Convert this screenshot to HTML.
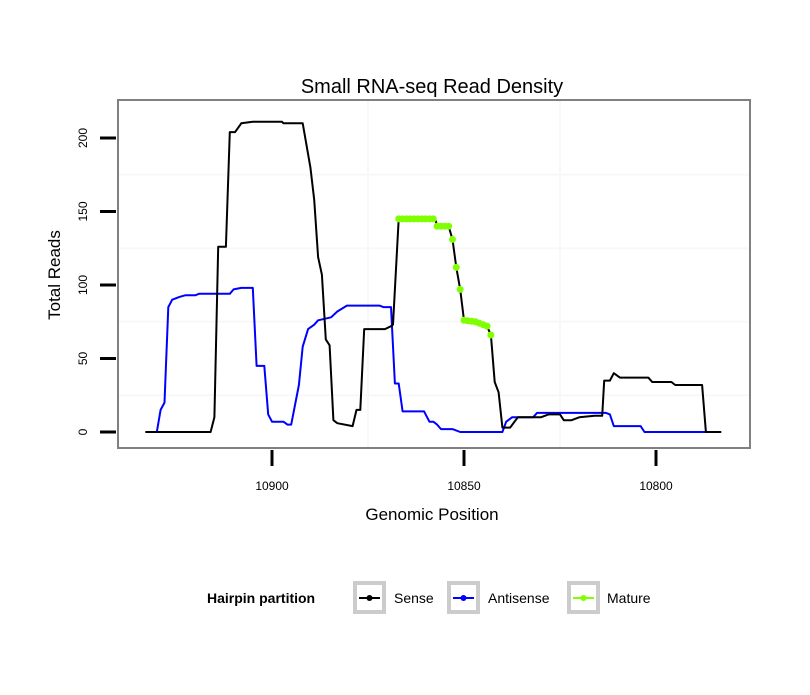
<!DOCTYPE html>
<html><head><meta charset="utf-8"><style>
body{margin:0;background:#fff;font-family:"Liberation Sans",sans-serif}
svg text{font-family:"Liberation Sans",sans-serif}
</style></head><body>
<svg id="chart" width="810" height="690" xmlns="http://www.w3.org/2000/svg">
<rect width="810" height="690" fill="#fff"/>
<text x="432" y="93" font-size="20" text-anchor="middle">Small RNA-seq Read Density</text>
<g id="grid"></g>
<g id="series"></g>
<rect x="118" y="100" width="632" height="348" fill="none" stroke="#808080" stroke-width="2"/>
<g id="axes"></g>
<text x="432" y="520" font-size="17" text-anchor="middle">Genomic Position</text>
<text transform="translate(60,275) rotate(-90)" font-size="17" text-anchor="middle">Total Reads</text>
<g>
<text x="207" y="603" font-size="14" font-weight="bold">Hairpin partition</text>
<g>
<rect x="355" y="583" width="29" height="29" fill="#fff" stroke="#ccc" stroke-width="4"/>
<line x1="359" y1="598" x2="380" y2="598" stroke="#000" stroke-width="2"/><circle cx="369.5" cy="598" r="3" fill="#000"/>
<text x="394" y="603" font-size="14">Sense</text></g>
<g>
<rect x="449" y="583" width="29" height="29" fill="#fff" stroke="#ccc" stroke-width="4"/>
<line x1="453" y1="598" x2="474" y2="598" stroke="#0000ff" stroke-width="2"/><circle cx="463.5" cy="598" r="3" fill="#0000ff"/>
<text x="488" y="603" font-size="14">Antisense</text></g>
<g>
<rect x="569" y="583" width="29" height="29" fill="#fff" stroke="#ccc" stroke-width="4"/>
<line x1="573" y1="598" x2="594" y2="598" stroke="#7fff00" stroke-width="2"/><circle cx="583.5" cy="598" r="3" fill="#7fff00"/>
<text x="607" y="603" font-size="14">Mature</text></g>
</g>
</svg>
<script>
const xTicks = [10900, 10850, 10800];
const yTicks = [0, 50, 100, 150, 200];
const sensePos = [10933,10916,10915,10914,10912,10911,10909.6,10908,10905,10897.4,10897,10892,10890,10889,10888,10887,10886,10885,10884,10883,10879,10878,10877,10876,10870.6,10869,10868.5,10867,10857.5,10857,10854,10853,10852,10851,10850,10847,10844,10843,10842,10841,10840,10838,10836,10830,10828,10825,10824,10822,10820,10816,10814,10813.5,10812,10811,10809.4,10802,10801,10796,10795,10788,10787,10783];
const senseVal = [0,0,10,126,126,204,204,210,211,211,210,210,180,158,119,107,63,59,8,6,4,15,15,70,70,72,73,145,145,140,140,131,112,97,76,75,72,66,34,27,3,3,10,10,12,12,8,8,10,11,11,35,35,40,37,37,34,34,32,32,0,0];
const antiPos = [10930,10929,10928,10927,10926,10924,10922.6,10920,10919,10911,10910,10908,10905,10904,10902,10901,10900,10897,10896,10895,10893,10892,10890.6,10889,10888,10884.6,10883,10880.5,10872,10871,10869,10868,10867,10866,10860.4,10859,10858,10857,10856,10853,10851,10840,10839,10837.5,10832,10831,10813,10812,10811,10804,10803,10787];
const antiVal = [0,15,20,85,90,92,93,93,94,94,97,98,98,45,45,12,7,7,5,5,32,58,70,73,76,78,82,86,86,85,85,33,33,14,14,7,7,5,2,2,0,0,7,10,10,13,13,12,4,4,0,0];
const matureStart = 10867, matureEnd = 10843;

const L=118,R=750,T=100,B=448;
const xs = p => 272 + (10900 - p) * 3.84;
const ys = v => 432 - v * 1.47;
const NS="http://www.w3.org/2000/svg";
function mk(tag, attrs, parent){const e=document.createElementNS(NS,tag);for(const k in attrs)e.setAttribute(k,attrs[k]);parent.appendChild(e);return e;}
const grid=document.getElementById('grid'), series=document.getElementById('series'), axes=document.getElementById('axes');
mk('rect',{x:L,y:T,width:R-L,height:B-T,fill:'#fff'},grid);
for(let i=0;i<yTicks.length-1;i++){const v=(yTicks[i]+yTicks[i+1])/2;
 const g=mk('line',{x1:L,x2:R,y1:ys(v),y2:ys(v),stroke:'#f8f8f8','stroke-width':2},grid);
 
 }
for(let i=0;i<xTicks.length-1;i++){const p=(xTicks[i]+xTicks[i+1])/2;
 const g=mk('line',{y1:T,y2:B,x1:xs(p),x2:xs(p),stroke:'#f8f8f8','stroke-width':2},grid);
 
 }
function path(pos,val,color,name){
 const d=pos.map((p,i)=>(i?'L':'M')+xs(p).toFixed(1)+','+ys(val[i]).toFixed(1)).join('');
 const e=mk('path',{d,fill:'none',stroke:color,'stroke-width':2,'stroke-linejoin':'round'},series);
 
 }
path(antiPos,antiVal,'#0000ff','antisense-line');
path(sensePos,senseVal,'#000','sense-line');
function interp(pos,val,p){for(let i=0;i<pos.length-1;i++){if(p<=pos[i]&&p>=pos[i+1]){const t=(pos[i]-p)/(pos[i]-pos[i+1]||1);return val[i]+t*(val[i+1]-val[i]);}}return 0;}
for(let p=matureStart;p>=matureEnd;p-=1){
 const c=mk('circle',{cx:xs(p),cy:ys(interp(sensePos,senseVal,p)),r:3.5,fill:'#7fff00'},series);
 
 }
yTicks.forEach(v=>{
 const t=mk('line',{x1:100,x2:116,y1:ys(v),y2:ys(v),stroke:'#000','stroke-width':3},axes);
 
 
 const l=mk('text',{transform:`translate(87,${ys(v)}) rotate(-90)`,'font-size':12,'text-anchor':'middle'},axes);
 l.textContent=v;
 
 });
xTicks.forEach(p=>{
 const t=mk('line',{x1:xs(p),x2:xs(p),y1:450,y2:466,stroke:'#000','stroke-width':3},axes);
 
 
 const l=mk('text',{x:xs(p),y:490,'font-size':12,'text-anchor':'middle'},axes);
 l.textContent=p;
 
 });
</script>
</body></html>
